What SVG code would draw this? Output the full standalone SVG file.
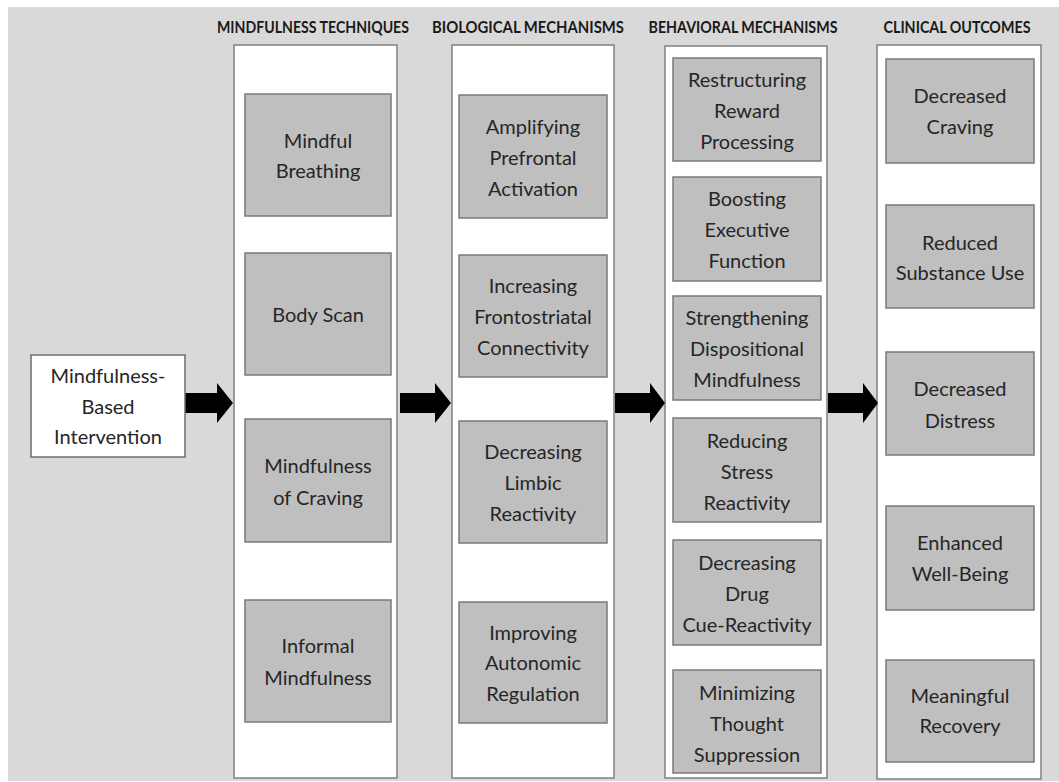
<svg xmlns="http://www.w3.org/2000/svg" width="1059" height="782" viewBox="0 0 1059 782">
  <style>
    .col { fill: #ffffff; stroke: #808080; stroke-width: 1.5; }
    .box { fill: #bfbfbf; stroke: #7a7a7a; stroke-width: 1.5; }
    .start { fill: #ffffff; stroke: #6e6e6e; stroke-width: 1.5; }
    .lbl { font-family: Lato, "Liberation Sans", sans-serif; font-size: 20px; fill: #262626; text-anchor: middle; dominant-baseline: central; }
    .hdr { font-family: Lato, "Liberation Sans", sans-serif; font-size: 17px; font-weight: bold; fill: #1a1a1a; text-anchor: middle; }
    .arrow { fill: #000000; }
  </style>

  <!-- page background -->
  <rect x="0" y="0" width="1059" height="782" fill="#ffffff"/>
  <rect x="8" y="7" width="1051" height="774" fill="#d9d9d9"/>

  <!-- column headings -->
  <g id="headings">
    <text class="hdr" x="313" y="33" textLength="192" lengthAdjust="spacingAndGlyphs">MINDFULNESS TECHNIQUES</text>
    <text class="hdr" x="528" y="33" textLength="192" lengthAdjust="spacingAndGlyphs">BIOLOGICAL MECHANISMS</text>
    <text class="hdr" x="743" y="33" textLength="189" lengthAdjust="spacingAndGlyphs">BEHAVIORAL MECHANISMS</text>
    <text class="hdr" x="957" y="33" textLength="147" lengthAdjust="spacingAndGlyphs">CLINICAL OUTCOMES</text>
  </g>

  <!-- column panels -->
  <g id="columns">
    <rect id="col-techniques" class="col" x="234" y="45" width="163" height="733"/>
    <rect id="col-biological" class="col" x="452" y="45" width="162" height="733"/>
    <rect id="col-behavioral" class="col" x="665" y="46" width="162" height="732"/>
    <rect id="col-outcomes" class="col" x="877" y="45" width="164" height="734"/>
  </g>

  <!-- block arrows between stages -->
  <g id="connectors">
    <path class="arrow" d="M184,393 H217 V383 L233,403 L217,423 V413 H184 Z"/>
    <path class="arrow" d="M400,393 H435 V383 L451,403 L435,423 V413 H400 Z"/>
    <path class="arrow" d="M615,393 H650 V383 L665,403 L650,423 V413 H615 Z"/>
    <path class="arrow" d="M828,393 H863 V383 L878,403 L863,423 V413 H828 Z"/>
  </g>

  <!-- starting node -->
  <g id="node-mbi">
    <rect class="start" x="31" y="355" width="154" height="102"/>
    <text class="lbl" x="108" y="375">Mindfulness-</text>
    <text class="lbl" x="108" y="406">Based</text>
    <text class="lbl" x="108" y="436">Intervention</text>
  </g>

  <!-- mindfulness techniques -->
  <g id="node-mindful-breathing">
    <rect class="box" x="245" y="94" width="146" height="122"/>
    <text class="lbl" x="318" y="140">Mindful</text>
    <text class="lbl" x="318" y="170">Breathing</text>
  </g>
  <g id="node-body-scan">
    <rect class="box" x="245" y="253" width="146" height="122"/>
    <text class="lbl" x="318" y="314">Body Scan</text>
  </g>
  <g id="node-mindfulness-of-craving">
    <rect class="box" x="245" y="419" width="146" height="123"/>
    <text class="lbl" x="318" y="465">Mindfulness</text>
    <text class="lbl" x="318" y="497">of Craving</text>
  </g>
  <g id="node-informal-mindfulness">
    <rect class="box" x="245" y="600" width="146" height="122"/>
    <text class="lbl" x="318" y="645">Informal</text>
    <text class="lbl" x="318" y="677">Mindfulness</text>
  </g>

  <!-- biological mechanisms -->
  <g id="node-prefrontal">
    <rect class="box" x="459" y="95" width="148" height="123"/>
    <text class="lbl" x="533" y="126">Amplifying</text>
    <text class="lbl" x="533" y="157">Prefrontal</text>
    <text class="lbl" x="533" y="188">Activation</text>
  </g>
  <g id="node-frontostriatal">
    <rect class="box" x="459" y="255" width="148" height="122"/>
    <text class="lbl" x="533" y="285">Increasing</text>
    <text class="lbl" x="533" y="316">Frontostriatal</text>
    <text class="lbl" x="533" y="347">Connectivity</text>
  </g>
  <g id="node-limbic">
    <rect class="box" x="459" y="421" width="148" height="122"/>
    <text class="lbl" x="533" y="451">Decreasing</text>
    <text class="lbl" x="533" y="482">Limbic</text>
    <text class="lbl" x="533" y="513">Reactivity</text>
  </g>
  <g id="node-autonomic">
    <rect class="box" x="459" y="602" width="148" height="121"/>
    <text class="lbl" x="533" y="632">Improving</text>
    <text class="lbl" x="533" y="662">Autonomic</text>
    <text class="lbl" x="533" y="693">Regulation</text>
  </g>

  <!-- behavioral mechanisms -->
  <g id="node-reward">
    <rect class="box" x="673" y="58" width="148" height="103"/>
    <text class="lbl" x="747" y="79">Restructuring</text>
    <text class="lbl" x="747" y="110">Reward</text>
    <text class="lbl" x="747" y="141">Processing</text>
  </g>
  <g id="node-executive">
    <rect class="box" x="673" y="177" width="148" height="104"/>
    <text class="lbl" x="747" y="198">Boosting</text>
    <text class="lbl" x="747" y="229">Executive</text>
    <text class="lbl" x="747" y="260">Function</text>
  </g>
  <g id="node-dispositional">
    <rect class="box" x="673" y="296" width="148" height="104"/>
    <text class="lbl" x="747" y="317">Strengthening</text>
    <text class="lbl" x="747" y="348">Dispositional</text>
    <text class="lbl" x="747" y="379">Mindfulness</text>
  </g>
  <g id="node-stress">
    <rect class="box" x="673" y="418" width="148" height="104"/>
    <text class="lbl" x="747" y="440">Reducing</text>
    <text class="lbl" x="747" y="471">Stress</text>
    <text class="lbl" x="747" y="502">Reactivity</text>
  </g>
  <g id="node-cue">
    <rect class="box" x="673" y="540" width="148" height="105"/>
    <text class="lbl" x="747" y="562">Decreasing</text>
    <text class="lbl" x="747" y="593">Drug</text>
    <text class="lbl" x="747" y="624">Cue-Reactivity</text>
  </g>
  <g id="node-suppression">
    <rect class="box" x="673" y="670" width="148" height="103"/>
    <text class="lbl" x="747" y="692">Minimizing</text>
    <text class="lbl" x="747" y="723">Thought</text>
    <text class="lbl" x="747" y="754">Suppression</text>
  </g>

  <!-- clinical outcomes -->
  <g id="node-craving">
    <rect class="box" x="886" y="59" width="148" height="104"/>
    <text class="lbl" x="960" y="95">Decreased</text>
    <text class="lbl" x="960" y="126">Craving</text>
  </g>
  <g id="node-substance-use">
    <rect class="box" x="886" y="205" width="148" height="103"/>
    <text class="lbl" x="960" y="242">Reduced</text>
    <text class="lbl" x="960" y="272">Substance Use</text>
  </g>
  <g id="node-distress">
    <rect class="box" x="886" y="352" width="148" height="103"/>
    <text class="lbl" x="960" y="388">Decreased</text>
    <text class="lbl" x="960" y="420">Distress</text>
  </g>
  <g id="node-well-being">
    <rect class="box" x="886" y="506" width="148" height="104"/>
    <text class="lbl" x="960" y="542">Enhanced</text>
    <text class="lbl" x="960" y="573">Well-Being</text>
  </g>
  <g id="node-recovery">
    <rect class="box" x="886" y="660" width="148" height="102"/>
    <text class="lbl" x="960" y="695">Meaningful</text>
    <text class="lbl" x="960" y="725">Recovery</text>
  </g>
</svg>
